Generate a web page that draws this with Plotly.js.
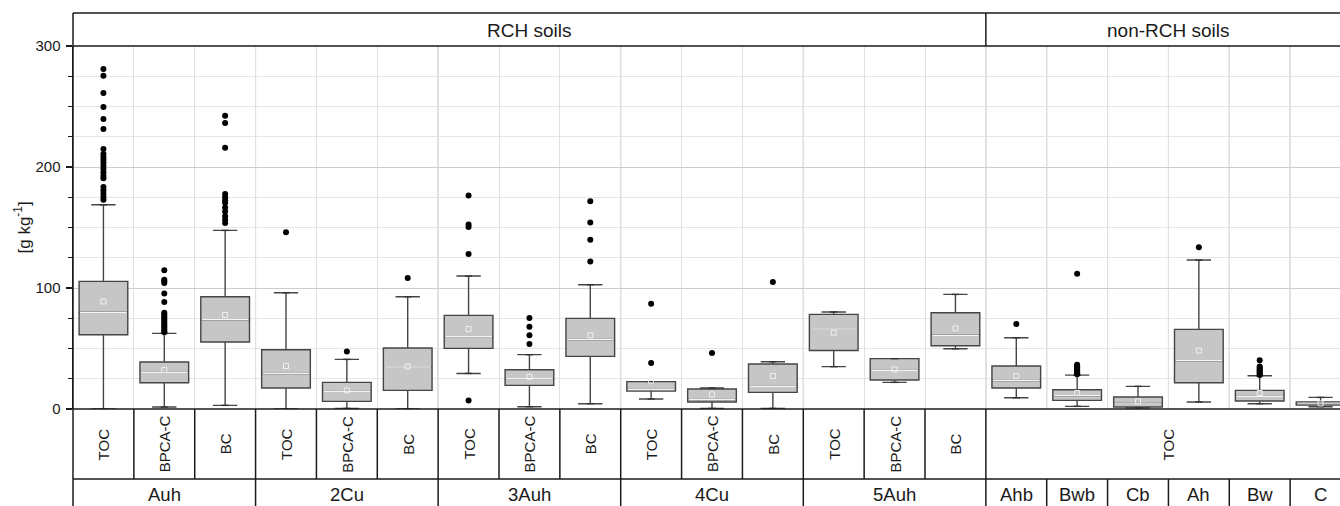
<!DOCTYPE html>
<html>
<head>
<meta charset="utf-8">
<script src="https://cdn.plot.ly/plotly-3.0.1.min.js"></script>
<style>
html,body{margin:0;padding:0;overflow:hidden;background:#fff;}
#chart{width:1360px;height:506px;}
</style>
</head>
<body>
<div id="chart"></div>
<script>
// ---------------- DATA ----------------
const soilGroups = ['RCH soils', 'non-RCH soils'];
const rchHorizons = ['Auh', '2Cu', '3Auh', '4Cu', '5Auh'];
const rchVariables = ['TOC', 'BPCA-C', 'BC'];
const nonRchHorizons = ['Ahb', 'Bwb', 'Cb', 'Ah', 'Bw', 'C'];
const nonRchVariable = 'TOC';

// one entry per box, in order: Auh TOC, Auh BPCA-C, Auh BC, 2Cu ..., 5Auh BC, Ahb, Bwb, Cb, Ah, Bw, C
const q1Values     = [61.4, 21.7, 55.4, 17.3,  6.3, 15.4, 50.1, 19.5, 43.5, 14.8,  5.8, 13.7, 48.4, 24.0, 52.3, 17.3,  7.1,  1.6, 21.7,  6.6, 3.2];
const medianValues = [79.9, 30.3, 73.8, 29.4, 14.6, 34.7, 59.8, 25.0, 57.5, 16.2,  7.9, 18.7, 66.1, 31.9, 60.9, 23.6, 11.0,  4.9, 39.9, 10.4, 4.8];
const q3Values     = [105.5, 38.8, 92.8, 49.0, 22.0, 50.4, 77.4, 32.5, 74.9, 22.6, 16.5, 37.2, 78.2, 41.6, 79.6, 35.5, 15.9,  9.9, 65.8, 15.4, 5.9];
const lowerFence   = [0.0,  1.6,  3.0,  0.0,  0.5,  0.0, 29.4,  1.9,  4.4,  8.3,  0.5,  0.5, 35.0, 22.0, 49.8,  9.3,  2.2,  1.0,  5.8,  4.4, 1.9];
const upperFence   = [168.8, 62.5, 147.6, 96.1, 41.0, 92.8, 109.9, 44.9, 102.7, 22.6, 17.4, 39.1, 80.2, 41.6, 94.7, 58.9, 28.0, 18.7, 123.1, 27.5, 9.6];
const meanValues   = [88.9, 32.2, 77.7, 35.5, 15.4, 35.2, 66.1, 26.7, 60.9, 23.5, 12.0, 27.3, 63.1, 32.7, 66.6, 27.3, 13.2,  6.3, 48.2, 13.2, 4.6];
const outlierValues = [
  [281, 275.5, 261.2, 249.6, 239.7, 231.4, 214.9, 210.7, 208.3, 206, 203.8, 201, 198.3, 195.5, 192.8, 190.6, 183.5, 180.7, 177.9, 175.2, 173],
  [114.6, 106.9, 105.5, 104.2, 95.5, 88.4, 79.5, 78, 76.5, 75, 73.5, 72, 70.5, 69, 67.5, 66, 64.5, 63.5],
  [242.4, 236.4, 216, 177.7, 174.9, 172.5, 170.5, 166.5, 163.3, 159.2, 156.5, 153.7],
  [146],
  [47.6],
  [108.3],
  [176.5, 152.5, 150.5, 128.1, 7.1],
  [75.2, 68, 60.9, 53.7],
  [171.6, 154.2, 139.9, 122],
  [87, 38],
  [46.3],
  [105],
  [],
  [],
  [],
  [70.2],
  [111.8, 36.6, 35.5, 34.5, 33.5, 32.5, 31.5, 30.5, 29.5, 28.8],
  [],
  [133.6],
  [40.2, 35.2, 34, 33, 32, 31, 30, 29, 28.2],
  []
];
const yTickValues = [0, 100, 200, 300];

// ---------------- BUILD ----------------
const FONT = 'Liberation Sans, Arial, Helvetica, sans-serif';
const nRch = rchHorizons.length * rchVariables.length; // 15
const nBoxes = nRch + nonRchHorizons.length;          // 21
const positions = q1Values.map((_, i) => i);

// geometry helpers (pixel -> paper)
const plotBottomPx = 409, plotHeightPx = 363;
const py = p => (plotBottomPx - p) / plotHeightPx;
const px = k => k / nBoxes; // column boundary k -> paper x

const headerTop = py(13);
const row1Bottom = py(479);
const tableBottom = py(520);

const boxTrace = {
  type: 'box',
  x: positions,
  q1: q1Values,
  median: medianValues,
  q3: q3Values,
  lowerfence: lowerFence,
  upperfence: upperFence,
  boxpoints: false,
  width: 0.8,
  fillcolor: '#c6c6c6',
  line: {color: '#454545', width: 1.4},
  hoverinfo: 'skip',
  showlegend: false
};

const capHalf = 0.06;
const capX = [], capY = [];
positions.forEach(i => {
  capX.push(i - capHalf, i + capHalf, null, i - capHalf, i + capHalf, null);
  capY.push(lowerFence[i], lowerFence[i], null, upperFence[i], upperFence[i], null);
});
const capTrace = {
  type: 'scatter', mode: 'lines', x: capX, y: capY,
  line: {color: '#333', width: 1.4}, hoverinfo: 'skip', showlegend: false
};

const medX = [], medY = [];
positions.forEach(i => {
  medX.push(i - 0.385, i + 0.385, null);
  medY.push(medianValues[i], medianValues[i], null);
});
const medianTrace = {
  type: 'scatter', mode: 'lines', x: medX, y: medY,
  line: {color: '#f4f4f4', width: 1.3}, hoverinfo: 'skip', showlegend: false
};

const meanTrace = {
  type: 'scatter', mode: 'markers', x: positions, y: meanValues,
  marker: {symbol: 'square-open', size: 5, color: '#f0f0f0', line: {width: 1, color: '#f0f0f0'}},
  hoverinfo: 'skip', showlegend: false
};

const outX = [], outY = [];
outlierValues.forEach((arr, i) => arr.forEach(v => { outX.push(i); outY.push(v); }));
const outlierTrace = {
  type: 'scatter', mode: 'markers', x: outX, y: outY,
  marker: {symbol: 'circle', size: 6, color: '#000'},
  hoverinfo: 'skip', showlegend: false
};

// ---------------- SHAPES ----------------
const shapes = [];
const tableLine = {color: '#1a1a1a', width: 1.5};
const hline = (x0, x1, y) => shapes.push({type: 'line', xref: 'paper', yref: 'paper', x0, x1, y0: y, y1: y, line: tableLine});
const vline = (x, y0, y1) => shapes.push({type: 'line', xref: 'paper', yref: 'paper', x0: x, x1: x, y0, y1, line: tableLine});

// darker grid at group boundaries (data refs -> above grid, below data)
const darkBoundaries = [];
for (let g = 1; g <= rchHorizons.length; g++) darkBoundaries.push(g * rchVariables.length);
for (let k = nRch + 1; k < nBoxes; k++) darkBoundaries.push(k);
darkBoundaries.forEach(k => shapes.push({
  type: 'line', xref: 'x', yref: 'y', x0: k - 0.5, x1: k - 0.5, y0: 0, y1: 300,
  layer: 'below', line: {color: '#a9a9a9', width: 1}
}));

// header band
hline(0, 1.02, headerTop);
hline(0, 1.02, 1);
vline(0, tableBottom, headerTop);
vline(px(nRch), 1, headerTop);
// table
hline(0, 1.02, 0);
hline(0, 1.02, row1Bottom);
for (let k = 1; k < nRch; k++) vline(px(k), row1Bottom, 0);
vline(px(nRch), tableBottom, 0);
for (let g = 1; g < rchHorizons.length; g++) vline(px(g * rchVariables.length), tableBottom, row1Bottom);
for (let k = nRch + 1; k < nBoxes; k++) vline(px(k), tableBottom, row1Bottom);

// ---------------- ANNOTATIONS ----------------
const annotations = [];
const txtColor = '#1a1a1a';
annotations.push({xref: 'paper', yref: 'paper', x: px(nRch) / 2, y: py(30), text: soilGroups[0],
  showarrow: false, font: {family: FONT, size: 19, color: txtColor}, xanchor: 'center', yanchor: 'middle'});
annotations.push({xref: 'paper', yref: 'paper', x: (px(nRch) + 1) / 2, y: py(30), text: soilGroups[1],
  showarrow: false, font: {family: FONT, size: 19, color: txtColor}, xanchor: 'center', yanchor: 'middle'});
rchHorizons.forEach((h, g) => {
  rchVariables.forEach((v, j) => {
    const k = g * rchVariables.length + j;
    annotations.push({xref: 'paper', yref: 'paper', x: (px(k) + px(k + 1)) / 2, y: py(444), text: v, textangle: -90,
      showarrow: false, font: {family: FONT, size: 15, color: txtColor}, xanchor: 'center', yanchor: 'middle'});
  });
  const k0 = g * rchVariables.length;
  annotations.push({xref: 'paper', yref: 'paper', x: (px(k0) + px(k0 + rchVariables.length)) / 2, y: py(494), text: h,
    showarrow: false, font: {family: FONT, size: 18.5, color: txtColor}, xanchor: 'center', yanchor: 'middle'});
});
annotations.push({xref: 'paper', yref: 'paper', x: (px(nRch) + px(nBoxes)) / 2, y: py(444), text: nonRchVariable, textangle: -90,
  showarrow: false, font: {family: FONT, size: 15, color: txtColor}, xanchor: 'center', yanchor: 'middle'});
nonRchHorizons.forEach((h, j) => {
  const k = nRch + j;
  annotations.push({xref: 'paper', yref: 'paper', x: (px(k) + px(k + 1)) / 2, y: py(494), text: h,
    showarrow: false, font: {family: FONT, size: 18.5, color: txtColor}, xanchor: 'center', yanchor: 'middle'});
});
// y title
annotations.push({xref: 'paper', yref: 'paper', x: (22 - 73) / 1278, y: 0.5, text: '[g kg<sup>-1</sup>]', textangle: -90,
  showarrow: false, font: {family: FONT, size: 17, color: txtColor}, xanchor: 'center', yanchor: 'middle'});

// ---------------- LAYOUT ----------------
const gridTicks = [];
for (let k = 1; k < nBoxes; k++) gridTicks.push(k - 0.5);

const layout = {
  width: 1360, height: 506,
  margin: {l: 73, r: 9, t: 46, b: 97, pad: 0},
  paper_bgcolor: '#fff', plot_bgcolor: '#fff',
  showlegend: false,
  font: {family: FONT, color: txtColor},
  xaxis: {
    range: [-0.5, nBoxes - 0.5], tickvals: gridTicks, showticklabels: false, ticks: '',
    showgrid: true, gridcolor: '#e0e0e0', gridwidth: 1, zeroline: false, showline: false, fixedrange: true
  },
  yaxis: {
    range: [0, 300], tickvals: yTickValues, ticks: 'outside', ticklen: 6, tickwidth: 1.2, tickcolor: '#1a1a1a',
    tickfont: {family: FONT, size: 15, color: txtColor}, ticklabelstandoff: 2,
    showline: true, linecolor: '#1a1a1a', linewidth: 1.5,
    showgrid: true, gridcolor: '#cdcdcd', gridwidth: 1, zeroline: false,
    minor: {dtick: 25, tick0: 0, ticks: 'outside', ticklen: 3.5, tickcolor: '#1a1a1a', tickwidth: 1,
            showgrid: true, gridcolor: '#e6e6e6', gridwidth: 1},
    fixedrange: true
  },
  shapes: shapes,
  annotations: annotations
};

Plotly.newPlot('chart', [boxTrace, capTrace, medianTrace, meanTrace, outlierTrace], layout, {staticPlot: true, displayModeBar: false});
</script>
</body>
</html>
